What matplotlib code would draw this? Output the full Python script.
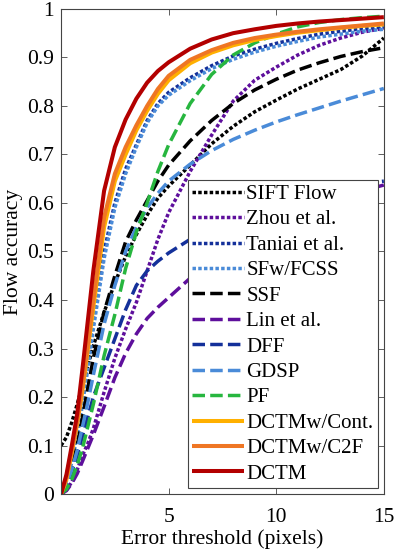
import matplotlib
matplotlib.use("Agg")
import matplotlib.pyplot as plt

plt.rcParams['font.family'] = ['Liberation Serif', 'DejaVu Serif']

x_thr = [0, 0.25, 0.5, 0.75, 1, 1.25, 1.5, 2, 2.5, 3, 3.5, 4, 4.5, 5, 6, 7, 8, 9, 10, 11, 12, 13, 14, 15]

sift_flow = [0.1, 0.117, 0.148, 0.185, 0.225, 0.265, 0.305, 0.375, 0.435, 0.49, 0.535, 0.575, 0.61, 0.635, 0.678, 0.722, 0.758, 0.788, 0.812, 0.835, 0.855, 0.875, 0.903, 0.94]
zhou = [0, 0.008, 0.025, 0.05, 0.08, 0.105, 0.135, 0.21, 0.28, 0.34, 0.395, 0.46, 0.525, 0.58, 0.665, 0.74, 0.81, 0.853, 0.88, 0.905, 0.925, 0.94, 0.952, 0.96]
taniai = [0, 0.03, 0.07, 0.13, 0.2, 0.28, 0.36, 0.5, 0.6, 0.67, 0.72, 0.77, 0.805, 0.828, 0.858, 0.883, 0.903, 0.917, 0.929, 0.939, 0.948, 0.954, 0.959, 0.963]
sfw_fcss = [0, 0.027, 0.065, 0.12, 0.185, 0.26, 0.34, 0.485, 0.59, 0.66, 0.715, 0.765, 0.8, 0.822, 0.852, 0.877, 0.896, 0.911, 0.923, 0.933, 0.942, 0.948, 0.954, 0.958]
ssf = [0, 0.02, 0.055, 0.1, 0.16, 0.22, 0.28, 0.375, 0.45, 0.52, 0.565, 0.605, 0.645, 0.678, 0.728, 0.77, 0.805, 0.833, 0.855, 0.874, 0.889, 0.902, 0.912, 0.92]
lin = [0, 0.007, 0.022, 0.042, 0.068, 0.095, 0.122, 0.18, 0.24, 0.29, 0.33, 0.362, 0.385, 0.405, 0.445, 0.478, 0.508, 0.535, 0.558, 0.578, 0.596, 0.611, 0.625, 0.637]
dff = [0, 0.018, 0.045, 0.08, 0.12, 0.16, 0.2, 0.26, 0.32, 0.38, 0.43, 0.46, 0.48, 0.497, 0.525, 0.55, 0.57, 0.588, 0.603, 0.615, 0.625, 0.633, 0.64, 0.645]
gdsp = [0, 0.02, 0.05, 0.09, 0.14, 0.19, 0.245, 0.35, 0.43, 0.5, 0.55, 0.59, 0.62, 0.645, 0.68, 0.708, 0.731, 0.75, 0.767, 0.782, 0.796, 0.81, 0.823, 0.836]
pf = [0, 0.01, 0.03, 0.06, 0.095, 0.14, 0.185, 0.285, 0.37, 0.465, 0.54, 0.6, 0.665, 0.72, 0.805, 0.865, 0.905, 0.93, 0.948, 0.963, 0.972, 0.978, 0.982, 0.985]
dctm_cont = [0, 0.03, 0.085, 0.145, 0.215, 0.3, 0.385, 0.55, 0.645, 0.7, 0.75, 0.79, 0.825, 0.853, 0.888, 0.91, 0.925, 0.936, 0.944, 0.951, 0.956, 0.961, 0.965, 0.968]
dctm_c2f = [0, 0.035, 0.09, 0.15, 0.225, 0.31, 0.4, 0.57, 0.66, 0.715, 0.76, 0.8, 0.835, 0.862, 0.895, 0.915, 0.93, 0.94, 0.947, 0.953, 0.958, 0.962, 0.966, 0.97]
dctm = [0, 0.04, 0.1, 0.165, 0.26, 0.36, 0.46, 0.625, 0.715, 0.772, 0.815, 0.848, 0.872, 0.89, 0.918, 0.937, 0.95, 0.958, 0.965, 0.97, 0.974, 0.977, 0.98, 0.983]

labels = ['SIFT Flow', 'Zhou et al.', 'Taniai et al.', 'SFw/FCSS', 'SSF', 'Lin et al.',
          'DFF', 'GDSP', 'PF', 'DCTMw/Cont.', 'DCTMw/C2F', 'DCTM']
series = [sift_flow, zhou, taniai, sfw_fcss, ssf, lin, dff, gdsp, pf, dctm_cont, dctm_c2f, dctm]

black = '#000000'
purple = '#5e0f9c'
navy = '#14309a'
lblue = '#4a8bd8'
green = '#27b63f'
yellow = '#ffb000'
orange = '#ef7624'
red = '#b30000'
colors = [black, purple, navy, lblue, black, purple, navy, lblue, green, yellow, orange, red]

DOT = (1.0, 0.65)
DASH = (3.6, 1.5)
styles = [DOT, DOT, DOT, DOT, DASH, DASH, DASH, DASH, DASH, None, None, None]

fig = plt.figure(figsize=(3.99, 5.57), dpi=100)
ax = fig.add_axes([0.153, 0.113, 0.809, 0.871])

for vals, lab, col, st in zip(series, labels, colors, styles):
    if st is None:
        ax.plot(x_thr, vals, color=col, lw=2.9, label=lab, solid_capstyle='butt')
    else:
        ax.plot(x_thr, vals, color=col, lw=2.5, label=lab, dashes=st, dash_capstyle='butt')

ax.set_xlim(0, 15)
ax.set_ylim(0, 1)
ax.set_xticks([5, 10, 15])
ax.set_yticks([i / 10 for i in range(11)])
ax.set_yticklabels(['0'] + ['0.%d' % i for i in range(1, 10)] + ['1'])
ax.tick_params(direction='in', top=True, right=True, length=4.5, width=0.6,
               labelsize=15.5, color='#444444')
ax.tick_params(axis='x', pad=10)
ax.tick_params(axis='y', pad=5)
for s in ax.spines.values():
    s.set_color('#444444')
    s.set_linewidth(0.8)

ax.set_xlabel('Error threshold (pixels)', fontsize=15.5, labelpad=2)
ax.set_ylabel('Flow accuracy', fontsize=15.5, labelpad=3)

leg = ax.legend(loc='lower right', fontsize=15, frameon=True, fancybox=False,
                edgecolor='#444444', handlelength=2.5, handletextpad=0.1,
                borderpad=0.2, labelspacing=0.28, borderaxespad=0.3, framealpha=1)
leg.get_frame().set_linewidth(0.8)

fig.savefig('out.png', dpi=100)
